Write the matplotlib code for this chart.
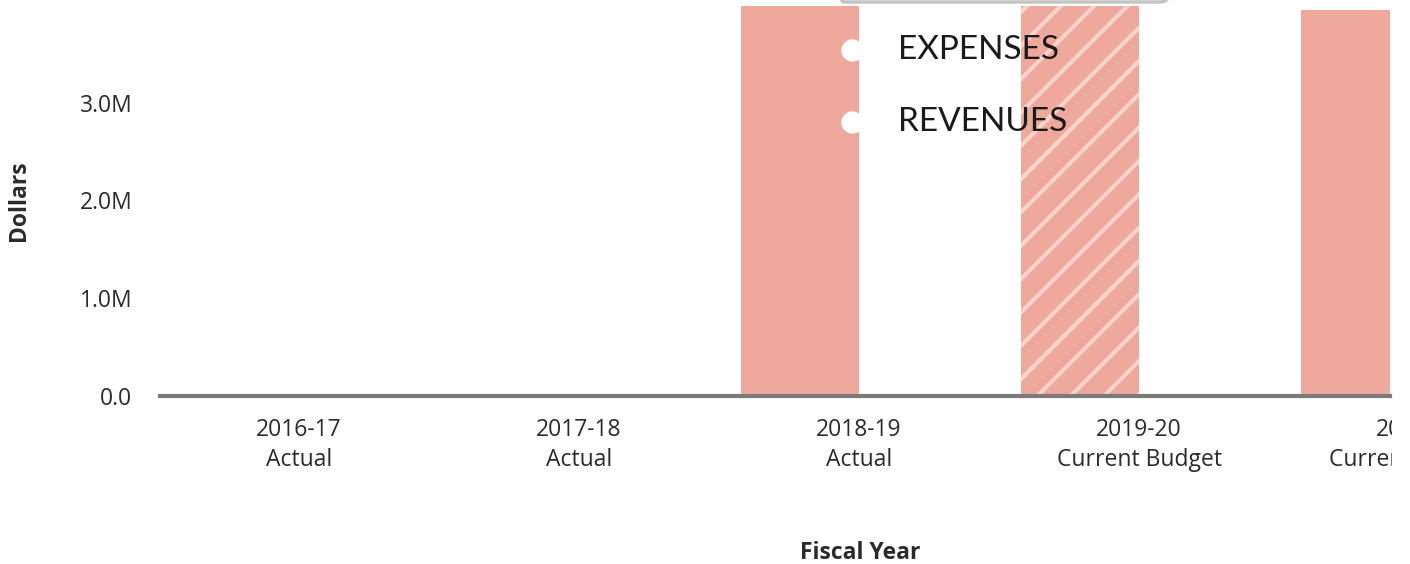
import numpy as np
import matplotlib.pyplot as plt
from matplotlib.lines import Line2D
from matplotlib.patches import FancyBboxPatch
from matplotlib.transforms import Bbox, TransformedBbox
from matplotlib.ticker import FuncFormatter

# fiscal years and their budget status
years = ["2016-17", "2017-18", "2018-19", "2019-20", "2020-21"]
status = ["Actual", "Actual", "Actual", "Current Budget", "Current Estimate"]
expenses = [0.0, 0.0, 4.30e6, 4.20e6, 3.95e6]
revenues = [0.0, 0.0, 0.0, 0.0, 0.0]
hatched = [False, False, False, True, False]
series_names = ["EXPENSES", "REVENUES"]

bar_color = "#EFA99C"
stripe_color = "#F8D3CB"
text_color = "#2b2b2b"

plt.rcParams["font.family"] = ["Open Sans", "DejaVu Sans"]
plt.rcParams["hatch.color"] = stripe_color
plt.rcParams["hatch.linewidth"] = 3.0

fig = plt.figure(figsize=(14.1, 5.64), dpi=100)
ax = fig.add_axes([0.1135, 0.2979, 0.8723, 0.6915])

x = np.arange(len(years))
width = 0.42
for i in range(len(years)):
    ax.bar(x[i] - width / 2, expenses[i], width, color=bar_color,
           hatch="/" if hatched[i] else None, linewidth=0)
    ax.bar(x[i] + width / 2, revenues[i], width, color=bar_color,
           hatch="/" if hatched[i] else None, linewidth=0)

ax.set_yticks([0, 1e6, 2e6, 3e6])
ax.yaxis.set_major_formatter(FuncFormatter(lambda v, p: "0.0" if v == 0 else f"{v / 1e6:.1f}M"))
ax.set_xticks([])
ax.set_xlim(-0.496, 3.896)
ax.set_ylim(0, 3.99e6)
ax.tick_params(axis="y", length=0, pad=20, labelsize=16.5, labelcolor=text_color)

# category labels; the last one runs past the chart edge and gets cut there
clip = TransformedBbox(Bbox([[0, 0], [1392 / 1410, 1]]), fig.transFigure)
for i in range(len(years)):
    t = ax.text(x[i], -0.057, f"{years[i]}\n{status[i]}", transform=ax.get_xaxis_transform(),
                ha="center", va="top", fontsize=16.5, color=text_color, linespacing=1.3)
    t.set_clip_path(None)
    t.set_clip_box(clip)
    t.set_clip_on(True)

for side in ["top", "right", "left"]:
    ax.spines[side].set_visible(False)
ax.spines["bottom"].set_color("#7a7a7a")
ax.spines["bottom"].set_linewidth(3)

ax.set_ylabel("Dollars", fontsize=16.5, fontweight="bold", color=text_color)
ax.yaxis.set_label_coords(-0.105, 0.5)
ax.set_xlabel("Fiscal Year", fontsize=16.5, fontweight="bold", color=text_color)
ax.xaxis.set_label_coords(0.569, -0.372)

# legend box (mostly above the visible area) with white dot markers
fig.add_artist(FancyBboxPatch((835 / 1410, 1 - 2 / 564), 332 / 1410, 0.3,
                              boxstyle="round,pad=0,rounding_size=0.006",
                              transform=fig.transFigure, facecolor="none",
                              edgecolor="#c4c4c4", linewidth=2.5, clip_on=False))
for k, name in enumerate(series_names):
    yy = 1 - (50 + 72 * k) / 564
    fig.add_artist(Line2D([852 / 1410], [yy], marker="o", markersize=15,
                          color="white", linestyle="none", transform=fig.transFigure))
    fig.text(898 / 1410, yy, name, fontsize=24, fontweight="normal",
             family=["Lato", "DejaVu Sans"], color="#1a1a1a", va="center", ha="left")

fig.savefig("out.png", dpi=100)
